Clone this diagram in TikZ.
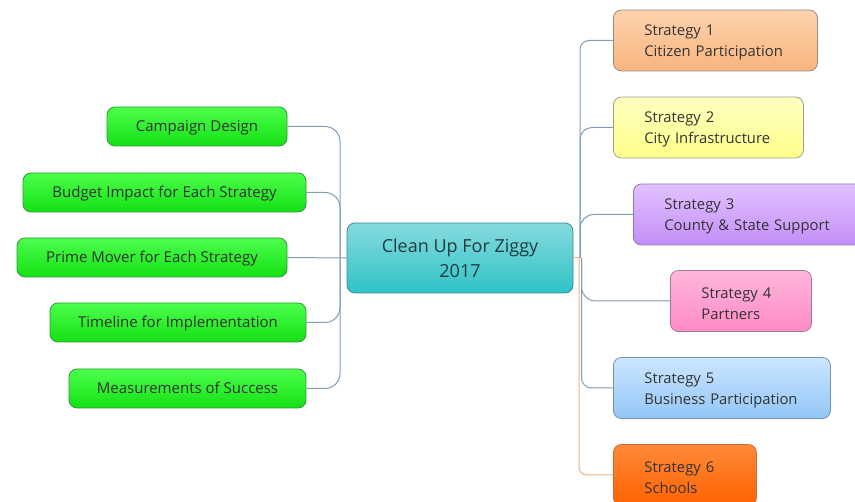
\documentclass[tikz,border=0pt]{standalone}
\usepackage{fontspec}
\setmainfont{Open Sans}
\definecolor{txt}{HTML}{333333}
\definecolor{ctxt}{HTML}{1E3C40}
\definecolor{linkblue}{HTML}{7F9DB9}
\definecolor{linkorange}{HTML}{F0B080}
\definecolor{grnT}{HTML}{4CFF4C}
\definecolor{grnB}{HTML}{14E014}
\definecolor{grnD}{HTML}{2E9A3A}
\definecolor{cenT}{HTML}{86DADE}
\definecolor{cenB}{HTML}{2FC3C7}
\definecolor{cenD}{HTML}{3A8A92}
\definecolor{s1T}{HTML}{FDD3AE}
\definecolor{s1B}{HTML}{F9B47C}
\definecolor{s1D}{HTML}{9A8A80}
\definecolor{s2T}{HTML}{FFFFC0}
\definecolor{s2B}{HTML}{FFFF8A}
\definecolor{s2D}{HTML}{9AA090}
\definecolor{s3T}{HTML}{E2C2FF}
\definecolor{s3B}{HTML}{C38EF8}
\definecolor{s3D}{HTML}{8E78B8}
\definecolor{s4T}{HTML}{FFB6DC}
\definecolor{s4B}{HTML}{FF8AC6}
\definecolor{s4D}{HTML}{A07A9A}
\definecolor{s5T}{HTML}{CCE6FF}
\definecolor{s5B}{HTML}{92C6F6}
\definecolor{s5D}{HTML}{7890B0}
\definecolor{s6T}{HTML}{FF8A3A}
\definecolor{s6B}{HTML}{FF6200}
\definecolor{s6D}{HTML}{C86A3A}
\newcommand{\upstrut}{\rule{0pt}{15.5pt}}
\tikzset{
  box/.style={rounded corners=8pt, line width=0.8pt, text=txt, inner sep=0pt},
  leftbox/.style={box, top color=grnT, bottom color=grnB, draw=grnD,
    minimum height=39pt, text height=14.2pt, text depth=3.6pt,
    font=\fontsize{15}{17}\selectfont},
  stratbox/.style={box, align=left, minimum height=61pt, inner xsep=31pt,
    font=\fontsize{14.8}{21}\selectfont, top color=#1T, bottom color=#1B, draw=#1D},
  blink/.style={draw=linkblue, line width=1pt, rounded corners=12pt},
  olink/.style={draw=linkorange, line width=1pt, rounded corners=10pt},
}
\begin{document}
\begin{tikzpicture}[x=1pt,y=-1pt]
\useasboundingbox (0,0) rectangle (855,502);
% central
\node[box, draw=cenD, top color=cenT, bottom color=cenB,
  minimum width=226pt, minimum height=70pt, align=center,
  font=\fontsize{18}{25}\selectfont, text=ctxt] (center) at (460,258) {Clean Up For Ziggy\\2017};
% left nodes
\node[leftbox, minimum width=180pt] (camp) at (197,126.5) {Campaign Design};
\node[leftbox, minimum width=283pt] (budget) at (164.5,192.5) {Budget Impact for Each Strategy};
\node[leftbox, minimum width=270pt] (prime) at (152,257.5) {Prime Mover for Each Strategy};
\node[leftbox, minimum width=256pt] (time) at (178,322.5) {Timeline for Implementation};
\node[leftbox, minimum width=237pt] (meas) at (187.5,388.5) {Measurements of Success};
% right nodes
\node[stratbox=s1, text width=142pt, anchor=west] (s1) at (613,40.5) {\upstrut Strategy 1\\Citizen Participation};
\node[stratbox=s2, text width=128pt, anchor=west] (s2) at (613,127.5) {\upstrut Strategy 2\\City Infrastructure};
\node[stratbox=s3, text width=180pt, anchor=west] (s3) at (633,214.5) {\upstrut Strategy 3\\County \& State Support};
\node[stratbox=s4, text width=79pt, anchor=west] (s4) at (670,301) {\upstrut Strategy 4\\Partners};
\node[stratbox=s5, text width=155pt, anchor=west] (s5) at (613,388) {\upstrut Strategy 5\\Business Participation};
\node[stratbox=s6, text width=81pt, anchor=west] (s6) at (613,475) {\upstrut Strategy 6\\Schools};
% junctions
\coordinate (lj) at (340,258);
\coordinate (rj) at (580,258);
% left connectors
\draw[blink, rounded corners=15pt] (camp.east) -| (lj);
\draw[blink, rounded corners=15pt] (budget.east) -| (lj);
\draw[blink] (prime.east) -- (center.west);
\draw[blink, rounded corners=15pt] (time.east) -| (lj);
\draw[blink, rounded corners=15pt] (meas.east) -| (lj);
% right connectors
\draw[olink] (center.east) -- (rj);
\draw[blink, rounded corners=9pt] (rj) |- (s1.west);
\draw[blink, rounded corners=12pt] (rj) |- (s2.west);
\draw[blink, rounded corners=14pt] (rj) |- (s3.west);
\draw[blink, rounded corners=14pt] ([xshift=1.5pt]rj) |- (s4.west);
\draw[blink, rounded corners=10pt] ([xshift=1.5pt]rj) |- (s5.west);
\draw[olink, rounded corners=8pt] ([xshift=-1pt]rj) |- (s6.west);
\end{tikzpicture}
\end{document}
